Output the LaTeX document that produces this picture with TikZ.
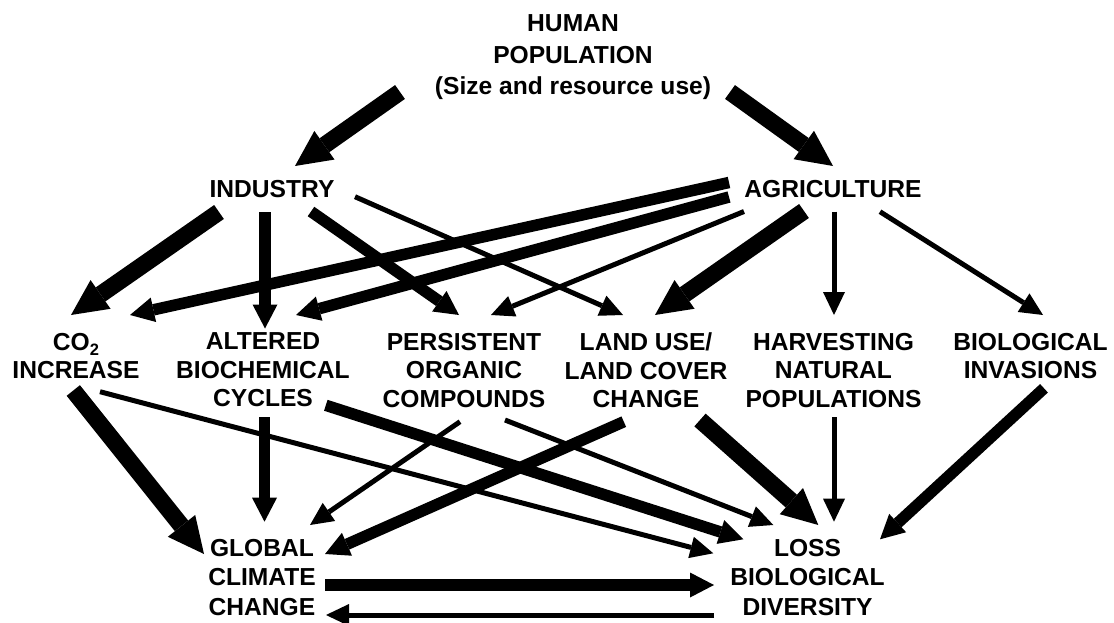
\documentclass[tikz,border=0pt]{standalone}
\usepackage{fontspec}
\setmainfont{Liberation Sans}
\usetikzlibrary{arrows.meta}

% subscript digit set lower and larger than \textsubscript
\newcommand{\lowdigit}[1]{\raisebox{-5pt}{\fontsize{16.5}{16.5}\selectfont #1}}

\begin{document}
\begin{tikzpicture}[x=1pt,y=-1pt,
  lbl/.style={inner sep=0pt,outer sep=0pt,align=center,anchor=north,
    font=\bfseries\fontsize{24.6}{#1}\selectfont},
  lbl/.default=28.5,
  heavyarrow/.style={line width=17pt,-{Triangle[length=36pt,width=35pt,line width=0pt]}},
  midarrow/.style={line width=11.5pt,-{Triangle[length=24pt,width=25pt,line width=0pt]}},
  lightarrow/.style={line width=5pt,-{Triangle[length=23pt,width=22pt,line width=0pt]}},
]
\useasboundingbox (0,0) rectangle (1114,623);

% drivers
\node[lbl=31.5] (human) at (573,15) {HUMAN\\POPULATION\\(Size and resource use)};
\node[lbl] (ind) at (272,180) {INDUSTRY};
\node[lbl] (agr) at (833,180) {AGRICULTURE};

% pressures
\node[lbl] (co2)  at (76,333)     {CO\lowdigit{2}\\INCREASE};
\node[lbl] (alt)  at (263,333)    {ALTERED\\BIOCHEMICAL\\CYCLES};
\node[lbl] (pers) at (464,333)    {PERSISTENT\\ORGANIC\\COMPOUNDS};
\node[lbl] (land) at (646,333)    {LAND USE/\\LAND COVER\\CHANGE};
\node[lbl] (harv) at (833.5,333)  {HARVESTING\\NATURAL\\POPULATIONS};
\node[lbl] (inv)  at (1030.5,333) {BIOLOGICAL\\INVASIONS};

% outcomes
\node[lbl=29.5] (glob) at (262,539)   {GLOBAL\\CLIMATE\\CHANGE};
\node[lbl=29.5] (loss) at (807.5,539) {LOSS\\BIOLOGICAL\\DIVERSITY};

% population -> sectors
\draw[heavyarrow] ([shift={(-173,77)}]human.north) -- ([shift={(23,-14)}]ind.north);
\draw[heavyarrow] ([shift={(157,77)}]human.north)  -- ([shift={(0,-14)}]agr.north);

% industry -> pressures
\draw[heavyarrow] ([shift={(-53,32)}]ind.north)  -- ([shift={(-5,-18)}]co2.north);
\draw[midarrow]   ([shift={(-7,32)}]ind.north)   -- ([shift={(2,-4.5)}]alt.north);
\draw[midarrow]   ([shift={(39,31.5)}]ind.north) -- ([shift={(-5,-18)}]pers.north);
\draw[lightarrow] ([shift={(83,16.7)}]ind.north) -- ([shift={(-23,-18)}]land.north);

% agriculture -> pressures
\draw[midarrow]   ([shift={(-104,2.5)}]agr.north) -- ([shift={(54,-18)}]co2.north);
\draw[midarrow]   ([shift={(-104,17)}]agr.north)  -- ([shift={(33,-18)}]alt.north);
\draw[lightarrow] ([shift={(-89,31.5)}]agr.north) -- ([shift={(27,-18)}]pers.north);
\draw[heavyarrow] ([shift={(-29,31)}]agr.north)   -- ([shift={(9,-18)}]land.north);
\draw[lightarrow] ([shift={(1,31.7)}]agr.north)   -- ([shift={(0.5,-18)}]harv.north);
\draw[lightarrow] ([shift={(47,31.7)}]agr.north)  -- ([shift={(12.5,-18)}]inv.north);

% pressures -> outcomes
\draw[heavyarrow] ([shift={(-2.7,57.5)}]co2.north) -- ([shift={(-58,15)}]glob.north);
\draw[lightarrow] ([shift={(24,58.7)}]co2.north)   -- ([shift={(-94.2,14.3)}]loss.north);
\draw[midarrow]   ([shift={(1.5,84.3)}]alt.north)  -- ([shift={(2.5,-17.3)}]glob.north);
\draw[midarrow]   ([shift={(62.8,72.3)}]alt.north) -- ([shift={(-64.2,0.3)}]loss.north);
\draw[lightarrow] ([shift={(-4,88.7)}]pers.north)  -- ([shift={(48,-14)}]glob.north);
\draw[lightarrow] ([shift={(41,87)}]pers.north)    -- ([shift={(-34.2,-14)}]loss.north);
\draw[midarrow]   ([shift={(-22.2,88.7)}]land.north) -- ([shift={(63,15)}]glob.north);
\draw[heavyarrow] ([shift={(54,87)}]land.north)    -- ([shift={(10.8,-14)}]loss.north);
\draw[lightarrow] ([shift={(0.5,84.3)}]harv.north) -- ([shift={(26.5,-17.3)}]loss.north);
\draw[midarrow]   ([shift={(13.5,55.3)}]inv.north) -- ([shift={(72.5,0.3)}]loss.north);

% feedback between outcomes
\draw[midarrow]   ([shift={(63,46)}]glob.north)    -- ([shift={(-93.5,46)}]loss.north);
\draw[lightarrow] ([shift={(-93.5,76)}]loss.north) -- ([shift={(64,76)}]glob.north);
\end{tikzpicture}
\end{document}
